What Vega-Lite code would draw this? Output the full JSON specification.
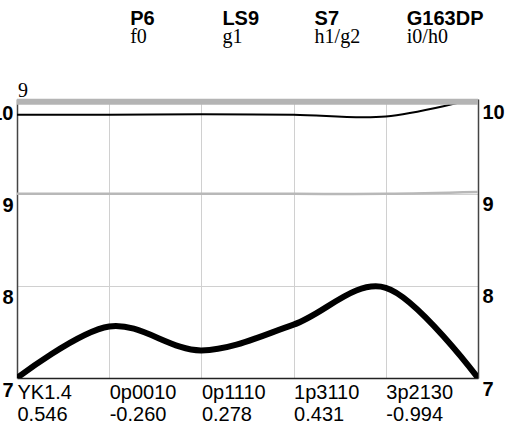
{
  "$schema": "https://vega.github.io/schema/vega-lite/v6.json",
  "width": 461,
  "height": 279,
  "autosize": {"type": "none"},
  "padding": {"left": 17, "top": 99, "right": 41, "bottom": 64},
  "background": "white",
  "config": {"view": {"stroke": null}, "font": "Liberation Sans"},
  "data": {"values": [
    {"cat": "YK1.4|0.546", "thick": 7.0, "thin": 9.86, "gray": 9.0, "top": 10, "note": "9"},
    {"cat": "0p0010|-0.260", "thick": 7.56, "thin": 9.86, "gray": 9.0, "top": 10, "head": "P6", "sub": "f0"},
    {"cat": "0p1110|0.278", "thick": 7.30, "thin": 9.865, "gray": 9.0, "top": 10, "head": "LS9", "sub": "g1"},
    {"cat": "1p3110|0.431", "thick": 7.58, "thin": 9.86, "gray": 9.0, "top": 10, "head": "S7", "sub": "h1/g2"},
    {"cat": "3p2130|-0.994", "thick": 7.98, "thin": 9.84, "gray": 9.0, "top": 10, "head": "G163DP", "sub": "i0/h0"},
    {"cat": "|", "thick": 7.0, "thin": 10.04, "gray": 9.02, "top": 10}
  ]},
  "encoding": {
    "x": {
      "field": "cat", "type": "ordinal", "sort": null,
      "scale": {"type": "point", "padding": 0},
      "axis": {
        "title": null, "orient": "bottom",
        "labelExpr": "split(datum.label, '|')",
        "labelAlign": "left", "labelBaseline": "top", "labelAngle": 0,
        "labelFontSize": 20, "labelLineHeight": 22, "labelPadding": 4,
        "labelColor": "black", "labelOverlap": false, "labelBound": false, "labelFlush": false,
        "ticks": false, "grid": true, "gridColor": "#d0d0d0", "gridWidth": 1,
        "domainColor": "#222", "domainWidth": 1.5
      }
    }
  },
  "layer": [
    {
      "mark": {"type": "line", "interpolate": "cardinal", "color": "black", "strokeWidth": 6, "clip": true},
      "encoding": {
        "y": {
          "field": "thick", "type": "quantitative",
          "scale": {"domain": [7, 10.03], "nice": false, "zero": false},
          "axis": {
            "orient": "left", "title": null, "values": [7, 8, 9, 10],
            "labelFontWeight": "bold", "labelFontSize": 20, "labelColor": "black",
            "labelAlign": "right", "labelBaseline": "top", "labelPadding": 4, "labelOffset": 2,
            "labelBound": false, "labelFlush": false, "labelOverlap": false,
            "ticks": false, "grid": true, "gridColor": "#d0d0d0", "gridWidth": 1,
            "domainColor": "#444", "domainWidth": 1.5
          }
        }
      }
    },
    {
      "mark": {"type": "line", "interpolate": "cardinal", "color": "black", "strokeWidth": 2, "clip": true},
      "encoding": {
        "y": {
          "field": "thin", "type": "quantitative",
          "scale": {"domain": [7, 10.03], "nice": false, "zero": false},
          "axis": {
            "orient": "right", "title": null, "values": [7, 8, 9, 10],
            "labelFontWeight": "bold", "labelFontSize": 20, "labelColor": "black",
            "labelAlign": "left", "labelBaseline": "top", "labelPadding": 4, "labelOffset": 1,
            "labelBound": false, "labelFlush": false, "labelOverlap": false,
            "ticks": false, "grid": false,
            "domainColor": "#444", "domainWidth": 1.5
          }
        }
      }
    },
    {
      "mark": {"type": "line", "interpolate": "cardinal", "color": "#b8b8b8", "strokeWidth": 2.5, "clip": true},
      "encoding": {
        "y": {"field": "gray", "type": "quantitative", "scale": {"domain": [7, 10.03], "nice": false, "zero": false}, "axis": null}
      }
    },
    {
      "mark": {"type": "line", "color": "#b4b4b4", "strokeWidth": 6, "clip": false},
      "encoding": {
        "y": {"field": "top", "type": "quantitative", "scale": {"domain": [7, 10.03], "nice": false, "zero": false}, "axis": null}
      }
    },
    {
      "transform": [{"filter": "datum.head"}],
      "mark": {"type": "text", "align": "left", "baseline": "alphabetic", "dx": 21, "font": "Liberation Sans", "fontWeight": "bold", "fontSize": 20, "color": "black", "clip": false},
      "encoding": {
        "y": {"datum": 10.83, "type": "quantitative", "scale": {"domain": [7, 10.03], "nice": false, "zero": false}, "axis": null},
        "text": {"field": "head"}
      }
    },
    {
      "transform": [{"filter": "datum.sub"}],
      "mark": {"type": "text", "align": "left", "baseline": "alphabetic", "dx": 21, "font": "Liberation Serif", "fontSize": 20, "color": "black", "clip": false},
      "encoding": {
        "y": {"datum": 10.64, "type": "quantitative", "scale": {"domain": [7, 10.03], "nice": false, "zero": false}, "axis": null},
        "text": {"field": "sub"}
      }
    },
    {
      "transform": [{"filter": "datum.note"}],
      "mark": {"type": "text", "align": "left", "baseline": "alphabetic", "dx": 1, "font": "Liberation Serif", "fontSize": 20, "color": "black", "clip": false},
      "encoding": {
        "y": {"datum": 10.05, "type": "quantitative", "scale": {"domain": [7, 10.03], "nice": false, "zero": false}, "axis": null},
        "text": {"field": "note"}
      }
    }
  ],
  "resolve": {"axis": {"y": "independent"}}
}
